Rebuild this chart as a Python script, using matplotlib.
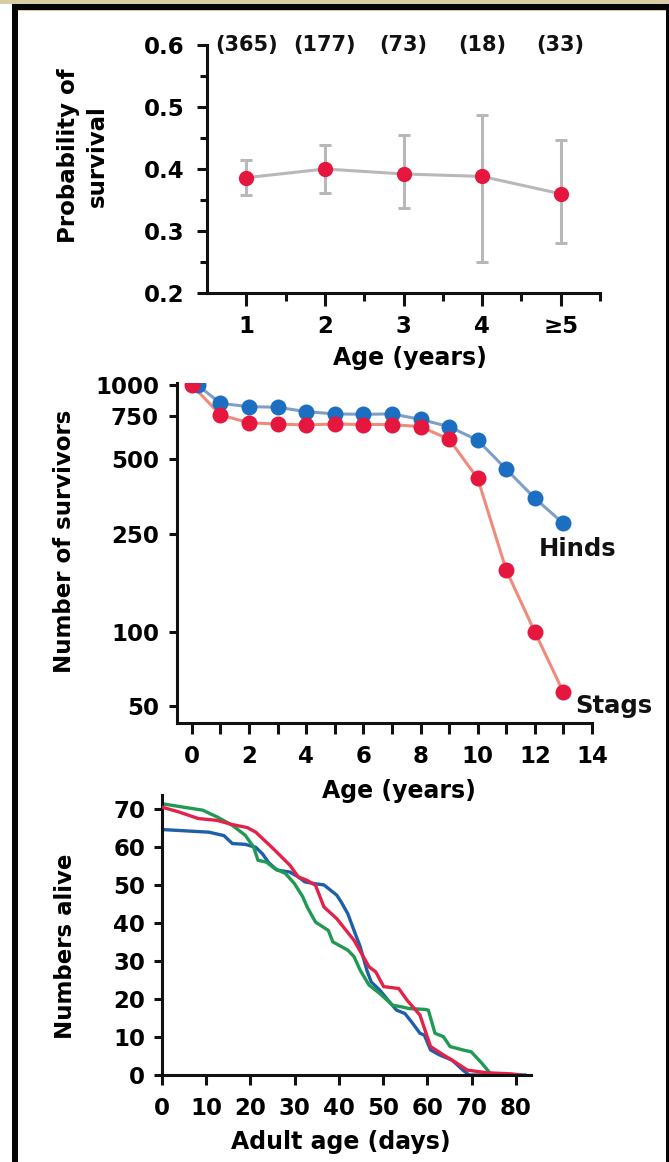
import matplotlib
matplotlib.use("Agg")
import matplotlib.pyplot as plt
from matplotlib.patches import Rectangle
from matplotlib.ticker import FixedLocator, NullFormatter, NullLocator

plt.rcParams['font.family'] = ['DejaVu Sans']
plt.rcParams['font.weight'] = 'bold'

# ---------------- data ----------------
# Panel A: probability of survival by age class
age_classes = [1, 2, 3, 4, 5]
age_labels = ['1', '2', '3', '4', '\u22655']
sample_sizes = ['(365)', '(177)', '(73)', '(18)', '(33)']
surv_prob = [0.386, 0.400, 0.392, 0.388, 0.360]
surv_low = [0.358, 0.362, 0.337, 0.250, 0.280]
surv_high = [0.414, 0.438, 0.455, 0.487, 0.447]

# Panel B: survivorship of red deer
hind_age = [0.2, 1, 2, 3, 4, 5, 6, 7, 8, 9, 10, 11, 12, 13]
hinds = [1000, 843, 817, 813, 780, 764, 761, 764, 726, 678, 598, 456, 348, 275]
stag_age = [0, 1, 2, 3, 4, 5, 6, 7, 8, 9, 10, 11, 12, 13]
stags = [1000, 757, 703, 695, 689, 695, 692, 692, 678, 603, 419, 178, 100, 57]

# Panel C: numbers alive vs adult age (days)
blue_days = [0, 10.6, 14, 15.9, 18.8, 21.2, 22.7, 24.1, 26, 28.9, 30.8, 32.3, 34.7, 36.6,
             39.5, 40.5, 42, 43.4, 44.8, 46.3, 47.3, 49.2, 51.1, 53, 54.9, 56.4, 58.3,
             59.3, 60.7, 62.7, 65.6, 68, 69.4, 82]
blue_alive = [64.7, 64.0, 63.1, 61, 60.8, 60, 58.3, 56, 54, 53.5, 52.2, 50.9, 50.4, 50.1,
              47.4, 45.6, 42.5, 38.1, 33.8, 27.6, 24.5, 22.4, 19.7, 17.1, 16.2, 14, 11,
              10.5, 6.6, 5.3, 3.9, 1.3, 0, 0]
red_days = [0, 3.9, 8.2, 12.5, 15.9, 19.3, 21.2, 25.1, 28.9, 30.8, 32.8, 34.7, 36.6, 39.5,
            43.4, 46.8, 48.3, 50.1, 53.5, 55.4, 58.3, 60.7, 63.6, 65.6, 69, 73.3, 79, 81]
red_alive = [70.6, 69.3, 67.6, 67.1, 66, 65.2, 64, 59.7, 55.3, 52.2, 51.3, 50, 44.3, 41.2,
             35.5, 28.5, 27.2, 23.3, 22.8, 19.7, 15.8, 7.5, 5.3, 3.9, 1.3, 0.6, 0.3, 0]
green_days = [0, 4.8, 9.2, 12.5, 15.9, 18.8, 20.7, 21.7, 23.6, 25.5, 27.9, 29.9, 31.8, 32.8,
              34.7, 37.6, 38.6, 42, 43.4, 44.8, 46.8, 49.2, 52.1, 54, 55.9, 59.3, 60.2,
              61.7, 63.6, 65.1, 68, 69.9, 72.3, 74.2, 75.2]
green_alive = [71.5, 70.6, 69.8, 68, 65.8, 63.2, 60.1, 56.6, 56.1, 54.4, 53.1, 50.5, 47, 44.3,
               40.3, 38.1, 35.1, 32.9, 31.2, 27.6, 23.7, 21.5, 18.4, 18, 17.5, 17.3, 17.1,
               11, 10.1, 7.5, 6.6, 6.1, 3.1, 0.4, 0]

# ---------------- figure ----------------
W, H = 669, 1162
fig = plt.figure(figsize=(W / 100, H / 100), dpi=100)
fig.patch.set_facecolor('white')


def px_rect(x0, y0, x1, y1, color):
    fig.patches.append(Rectangle((x0 / W, 1 - y1 / H), (x1 - x0) / W, (y1 - y0) / H,
                                 transform=fig.transFigure, color=color, zorder=0, lw=0))


def axes_px(x0, y0, x1, y1):
    return fig.add_axes([x0 / W, 1 - y1 / H, (x1 - x0) / W, (y1 - y0) / H])


# frame
px_rect(0, 0, W, 4, '#d8cca4')
px_rect(12, 4, W, 10, '#050505')
px_rect(12, 10, W, 11, '#d8cca4')
px_rect(12, 4, 17.5, H, '#050505')
px_rect(666, 4, W, H, '#050505')

SPW = 2.2
TICKFS = 16.5
LABFS = 17


def style(ax):
    for s in ['top', 'right']:
        ax.spines[s].set_visible(False)
    for s in ['left', 'bottom']:
        ax.spines[s].set_linewidth(SPW)
        ax.spines[s].set_color('#111111')
    ax.set_facecolor('none')
    ax.tick_params(which='both', width=SPW, color='#111111', labelsize=TICKFS)
    for lab in ax.get_xticklabels() + ax.get_yticklabels():
        lab.set_fontweight('bold')


# ---------------- Panel A ----------------
ax1 = axes_px(207, 45, 600, 293)
yerr = [[p - lo for p, lo in zip(surv_prob, surv_low)],
        [hi - p for p, hi in zip(surv_prob, surv_high)]]
ax1.plot(age_classes, surv_prob, color='#b8b8b8', lw=2.2, zorder=2)
ax1.errorbar(age_classes, surv_prob, yerr=yerr, fmt='none', ecolor='#b8b8b8',
             elinewidth=2.2, capsize=4, capthick=2.2, zorder=2)
ax1.plot(age_classes, surv_prob, 'o', color='#e5173f', ms=11, mec='none', zorder=3)
ax1.set_xlim(0.5, 5.5)
ax1.set_ylim(0.2, 0.6)
ax1.set_xticks(age_classes)
ax1.set_xticklabels(age_labels)
ax1.xaxis.set_minor_locator(FixedLocator([1.5, 2.5, 3.5, 4.5, 5.5]))
ax1.set_yticks([0.2, 0.3, 0.4, 0.5, 0.6])
ax1.set_yticklabels(['0.2', '0.3', '0.4', '0.5', '0.6'])
ax1.yaxis.set_minor_locator(FixedLocator([0.25, 0.35, 0.45, 0.55]))
style(ax1)
ax1.tick_params(axis='x', which='major', length=9, pad=7)
ax1.tick_params(axis='x', which='minor', length=6)
ax1.tick_params(axis='y', which='major', length=7, pad=9)
ax1.tick_params(axis='y', which='minor', length=5)
for x, s in zip(age_classes, sample_sizes):
    ax1.text(x, 0.6, s, ha='center', va='center', fontsize=15, fontweight='bold',
             color='#111111', transform=ax1.transData, clip_on=False)
fig.text(410 / W, 1 - 358 / H, 'Age (years)', ha='center', va='center',
         fontsize=LABFS, fontweight='bold')
fig.text(83 / W, 1 - 156 / H, 'Probability of\nsurvival', ha='center', va='center',
         rotation=90, fontsize=16.5, fontweight='bold', linespacing=1.3)

# ---------------- Panel B ----------------
ax2 = axes_px(177, 383, 592, 723)
ax2.set_yscale('log')
ax2.plot(hind_age, hinds, '-', color='#7f9fc8', lw=2.2, zorder=2)
ax2.plot(stag_age, stags, '-', color='#f08a7c', lw=2.2, zorder=2)
ax2.plot(hind_age, hinds, 'o', color='#1c6fc0', ms=11.5, mec='none', zorder=3)
ax2.plot(stag_age, stags, 'o', color='#e5173f', ms=11.5, mec='none', zorder=4)
ax2.set_xlim(-0.52, 14)
ax2.set_ylim(42.8, 1019)
ax2.set_xticks(list(range(0, 15)))
ax2.set_xticklabels([str(v) if v % 2 == 0 else '' for v in range(0, 15)])
ax2.yaxis.set_major_locator(FixedLocator([50, 100, 250, 500, 750, 1000]))
ax2.set_yticklabels(['50', '100', '250', '500', '750', '1000'])
ax2.yaxis.set_minor_locator(NullLocator())
ax2.yaxis.set_minor_formatter(NullFormatter())
style(ax2)
ax2.tick_params(axis='x', which='major', length=8, pad=8)
ax2.tick_params(axis='y', which='major', length=6, pad=7)
ax2.text(13.5, 217, 'Hinds', ha='center', va='center', fontsize=17.5,
         fontweight='bold', color='#111111')
ax2.text(14.75, 50, 'Stags', ha='center', va='center', fontsize=17.5,
         fontweight='bold', color='#111111', clip_on=False)
fig.text(399 / W, 1 - 791 / H, 'Age (years)', ha='center', va='center',
         fontsize=LABFS, fontweight='bold')
fig.text(65 / W, 1 - 541 / H, 'Number of survivors', ha='center', va='center',
         rotation=90, fontsize=16.5, fontweight='bold')

# ---------------- Panel C ----------------
ax3 = axes_px(162, 795, 531, 1075)
ax3.plot(blue_days, blue_alive, color='#1f5fa8', lw=2.4, zorder=2)
ax3.plot(red_days, red_alive, color='#e3224a', lw=2.4, zorder=3)
ax3.plot(green_days, green_alive, color='#1e9a52', lw=2.4, zorder=2)
ax3.set_xlim(0, 83.4)
ax3.set_ylim(0, 73.8)
ax3.set_xticks(list(range(0, 81, 10)))
ax3.set_yticks(list(range(0, 71, 10)))
style(ax3)
ax3.spines['bottom'].set_zorder(5)
ax3.tick_params(axis='x', which='major', length=7, pad=9, labelsize=16.5)
ax3.tick_params(axis='y', which='major', length=6, pad=6)
fig.text(341 / W, 1 - 1142 / H, 'Adult age (days)', ha='center', va='center',
         fontsize=LABFS, fontweight='bold')
fig.text(65 / W, 1 - 946 / H, 'Numbers alive', ha='center', va='center',
         rotation=90, fontsize=16.5, fontweight='bold')

fig.savefig('out.png', dpi=100)
